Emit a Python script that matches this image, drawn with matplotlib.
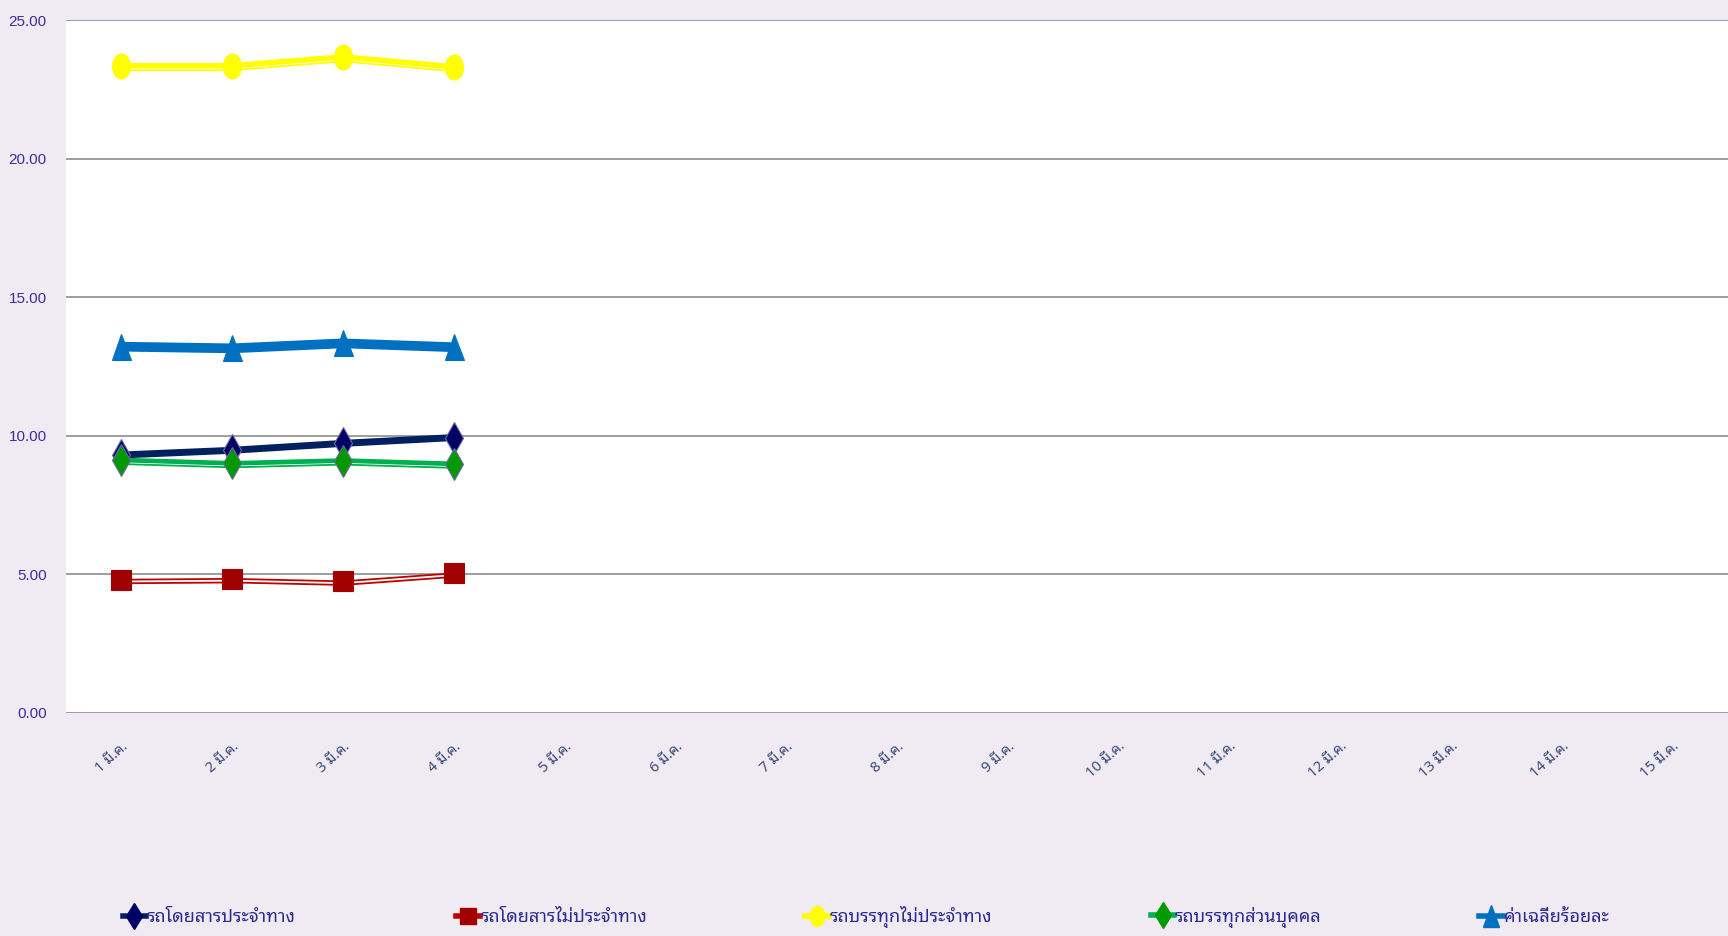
import matplotlib
matplotlib.use('Agg')
import matplotlib.pyplot as plt
import matplotlib.patheffects as pe
from matplotlib.markers import MarkerStyle
from matplotlib.transforms import Affine2D

plt.rcParams['font.family'] = ['Noto Sans Thai Looped', 'DejaVu Sans']

days = ['1 มี.ค.', '2 มี.ค.', '3 มี.ค.', '4 มี.ค.', '5 มี.ค.', '6 มี.ค.', '7 มี.ค.', '8 มี.ค.',
        '9 มี.ค.', '10 มี.ค.', '11 มี.ค.', '12 มี.ค.', '13 มี.ค.', '14 มี.ค.', '15 มี.ค.']

bus_fixed = [9.30, 9.47, 9.72, 9.93]
bus_nonfixed = [4.80, 4.83, 4.74, 5.03]
truck_nonfixed = [23.35, 23.35, 23.67, 23.31]
truck_private = [9.12, 9.00, 9.10, 8.98]
average = [13.21, 13.15, 13.33, 13.19]

yticks = [0, 5, 10, 15, 20, 25]


def squeezed(m, sx=0.7):
    return MarkerStyle(m, transform=Affine2D().scale(sx, 1.0))


series = [
    # label, values, line colour, marker colour, marker, size, lw, (offset, lw2) of 2nd line
    ('รถโดยสารประจำทาง', bus_fixed, '#002060', '#000066', 'd', 16, 5.0, None),
    ('รถโดยสารไม่ประจำทาง', bus_nonfixed, '#c00000', '#a00000', 's', 14, 1.3, (2.6, 1.3)),
    ('รถบรรทุกไม่ประจำทาง', truck_nonfixed, '#ffff00', '#ffff00', squeezed('o', 0.72), 18, 4.0, (3.2, 1.3)),
    ('รถบรรทุกส่วนบุคคล', truck_private, '#00b050', '#009900', 'd', 16, 3.4, (2.9, 1.3)),
    ('ค่าเฉลี่ยร้อยละ', average, '#0070c0', '#0070c0', squeezed('^', 0.72), 19, 7.0, None),
]

fig = plt.figure(figsize=(17.28, 9.36), dpi=100, facecolor='#f0ebf3')
ax = fig.add_axes([0.0382, 0.2386, 0.9618, 0.74])
ax.set_facecolor('white')

x = list(range(4))
handles = []
for label, vals, lc, mc, mk, ms, lw, second in series:
    effects = None
    if second:
        effects = [pe.Stroke(offset=(0, -second[0]), linewidth=second[1], foreground=lc),
                   pe.Normal()]
    ax.plot(x, vals, color=lc, lw=lw, solid_capstyle='butt', path_effects=effects, zorder=3)
    ax.plot(x, vals, ls='none', marker=mk, ms=ms, markerfacecolor=mc,
            markeredgecolor='#6a6aa0' if mk == 'd' else mc, markeredgewidth=0.8, zorder=4)
    h, = ax.plot([], [], color=lc, lw=4, marker=mk, ms=ms * 0.8, markerfacecolor=mc,
                 markeredgecolor=mc, label=label)
    handles.append(h)

ax.set_xlim(-0.5, 14.5)
ax.set_ylim(0, 25)
ax.set_yticks(yticks)
ax.set_yticklabels([f'{v:.2f}' for v in yticks], family=['Liberation Sans', 'DejaVu Sans'],
                   fontsize=11, color='#3a2fa0')
ax.set_xticks(range(len(days)))
ax.set_xticklabels(days, rotation=42, ha='right', rotation_mode='anchor',
                   fontsize=10.5, color='#3b4a78', style='italic')
ax.tick_params(axis='x', length=0, pad=19)
ax.tick_params(axis='y', length=0, pad=14)
ax.grid(axis='y', color='#8c8c8c', lw=1.2)
ax.set_axisbelow(True)
for s in ax.spines.values():
    s.set_visible(False)

# one legend per entry, spread along the bottom like the original
legend_x = [0.071, 0.264, 0.466, 0.666, 0.856]
for h, lx in zip(handles, legend_x):
    leg = fig.legend(handles=[h], loc='center left', bbox_to_anchor=(lx, 0.020),
                     frameon=False, fontsize=13, handlelength=1.3, handletextpad=0.05,
                     borderpad=0, borderaxespad=0)
    for t in leg.get_texts():
        t.set_color('#2b2b90')

fig.savefig('out.png', facecolor=fig.get_facecolor())
